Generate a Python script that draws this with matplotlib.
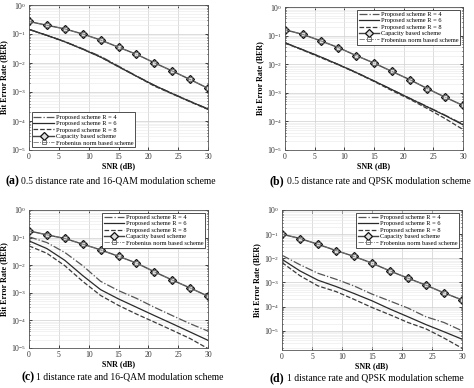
import numpy as np
import matplotlib
matplotlib.use('Agg')
import matplotlib.pyplot as plt
from matplotlib.ticker import LogLocator, NullFormatter

plt.rcParams['font.family'] = 'serif'
plt.rcParams['font.serif'] = ['Liberation Serif', 'DejaVu Serif']
plt.rcParams['mathtext.fontset'] = 'stix'

snr = [0, 3, 6, 9, 12, 15, 18, 21, 24, 27, 30]

# (a) 0.5 distance rate, 16-QAM
a_r4 = [0.145, 0.09, 0.055, 0.031, 0.017, 0.0078, 0.0036, 0.0017, 9.0e-4, 4.8e-4, 2.6e-4]
a_r6 = [0.145, 0.09, 0.054, 0.030, 0.016, 0.0075, 0.0035, 0.0017, 8.8e-4, 4.7e-4, 2.6e-4]
a_r8 = [0.143, 0.089, 0.054, 0.030, 0.016, 0.0074, 0.0035, 0.0016, 8.6e-4, 4.6e-4, 2.5e-4]
a_cap = [0.27, 0.20, 0.15, 0.10, 0.062, 0.035, 0.020, 0.0102, 0.0053, 0.0027, 0.00134]
a_frob = [0.27, 0.20, 0.15, 0.10, 0.062, 0.035, 0.020, 0.0102, 0.0053, 0.0027, 0.00134]

# (b) 0.5 distance rate, QPSK
b_r4 = [0.056, 0.032, 0.018, 0.0098, 0.0052, 0.0026, 0.0013, 6.5e-4, 3.3e-4, 1.65e-4, 8.0e-5]
b_r6 = [0.056, 0.032, 0.018, 0.0097, 0.0051, 0.0026, 0.0013, 6.4e-4, 3.2e-4, 1.6e-4, 7.6e-5]
b_r8 = [0.055, 0.031, 0.017, 0.0095, 0.0050, 0.0025, 0.0012, 6.0e-4, 2.8e-4, 1.25e-4, 5.2e-5]
b_cap = [0.16, 0.11, 0.066, 0.038, 0.020, 0.011, 0.0056, 0.0029, 0.0014, 7.0e-4, 3.6e-4]
b_frob = [0.16, 0.11, 0.066, 0.038, 0.020, 0.011, 0.0056, 0.0029, 0.0014, 7.0e-4, 3.6e-4]

# (c) 1 distance rate, 16-QAM
c_r4 = [0.107, 0.066, 0.029, 0.0096, 0.0026, 0.0012, 6.3e-4, 3.0e-4, 1.5e-4, 7.6e-5, 4.1e-5]
c_r6 = [0.076, 0.040, 0.015, 0.0042, 0.0013, 6.0e-4, 3.0e-4, 1.5e-4, 7.6e-5, 3.8e-5, 1.9e-5]
c_r8 = [0.050, 0.027, 0.0096, 0.0026, 8.0e-4, 3.5e-4, 1.7e-4, 8.7e-5, 4.4e-5, 2.2e-5, 9.5e-6]
c_cap = [0.175, 0.126, 0.093, 0.058, 0.036, 0.021, 0.012, 0.0058, 0.0029, 0.0015, 7.5e-4]
c_frob = [0.175, 0.126, 0.093, 0.058, 0.036, 0.021, 0.012, 0.0058, 0.0029, 0.0015, 7.5e-4]

# (d) 1 distance rate, QPSK
d_r4 = [0.0134, 0.0054, 0.0024, 0.00136, 7.2e-4, 3.3e-4, 1.7e-4, 8.7e-5, 3.8e-5, 2.2e-5, 1.0e-5]
d_r6 = [0.0091, 0.0030, 0.00124, 6.8e-4, 3.5e-4, 1.74e-4, 7.9e-5, 3.8e-5, 1.8e-5, 9.1e-6, 4.5e-6]
d_r8 = [0.0067, 0.0019, 7.2e-4, 4.2e-4, 2.0e-4, 9.2e-5, 4.6e-5, 2.2e-5, 1.2e-5, 5.0e-6, 1.9e-6]
d_cap = [0.10, 0.066, 0.038, 0.021, 0.012, 0.0063, 0.0030, 0.0015, 7.7e-4, 3.7e-4, 1.9e-4]
d_frob = [0.10, 0.066, 0.038, 0.021, 0.012, 0.0063, 0.0030, 0.0015, 7.7e-4, 3.7e-4, 1.9e-4]

labels = ['Proposed scheme R = 4', 'Proposed scheme R = 6', 'Proposed scheme R = 8',
          'Capacity based scheme', 'Frobenius norm based scheme']

panels = [
    ('(a)', '0.5 distance rate and 16-QAM modulation scheme', a_r4, a_r6, a_r8, a_cap, a_frob, 1e-5, 'lower left'),
    ('(b)', '0.5 distance rate and QPSK modulation scheme', b_r4, b_r6, b_r8, b_cap, b_frob, 1e-5, 'upper right'),
    ('(c)', '1 distance rate and 16-QAM modulation scheme', c_r4, c_r6, c_r8, c_cap, c_frob, 1e-5, 'upper right'),
    ('(d)', '1 distance rate and QPSK modulation scheme', d_r4, d_r6, d_r8, d_cap, d_frob, 1.6e-6, 'upper right'),
]

# axes boxes in pixels: left, right, top, bottom
boxes = [(29, 208, 5, 150), (285, 463, 7, 150), (29, 208, 210, 348), (282, 462, 210, 350)]
caps = [(5, 21, 181), (270, 287, 181), (22, 36, 377), (270, 287, 378)]

W, H = 474, 388
fig = plt.figure(figsize=(W / 100, H / 100), dpi=100)

for i, (tag, text, r4, r6, r8, cap, frob, ymin, loc) in enumerate(panels):
    l, r, t, b = boxes[i]
    ax = fig.add_axes([l / W, 1 - b / H, (r - l) / W, (b - t) / H])
    ax.plot(snr, r4, color='#555555', ls='-.', lw=0.9, label=labels[0])
    ax.plot(snr, r6, color='#2a2a2a', ls='-', lw=0.9, label=labels[1])
    ax.plot(snr, r8, color='#3a3a3a', ls='--', lw=0.9, label=labels[2])
    ax.plot(snr, cap, color='#444444', ls='-', lw=1.0, marker='D', ms=4.0,
            mfc='#dddddd', mec='#111111', mew=0.9, label=labels[3])
    ax.plot(snr, frob, color='#777777', ls='-.', lw=0.6, marker='s', ms=2.6,
            mfc='none', mec='#666666', mew=0.6, label=labels[4])
    ax.set_yscale('log')
    ax.set_xlim(0, 30)
    ax.set_ylim(ymin, 1)
    ax.set_xticks([0, 5, 10, 15, 20, 25, 30])
    ax.yaxis.set_major_locator(LogLocator(base=10, numticks=10))
    ax.yaxis.set_minor_locator(LogLocator(base=10, subs=np.arange(2, 10), numticks=10))
    ax.yaxis.set_minor_formatter(NullFormatter())
    ax.grid(True, which='major', color='#cfcfcf', lw=0.5)
    ax.grid(True, which='minor', axis='y', color='#e8e8e8', lw=0.4)
    ax.tick_params(which='both', direction='in', labelsize=5.5, length=2, width=0.5,
                   top=True, right=True, pad=2, labelcolor='#333333')
    ax.tick_params(which='minor', length=1)
    for s in ax.spines.values():
        s.set_linewidth(0.6)
        s.set_color('#555555')
    ax.set_xlabel('SNR (dB)', fontsize=5.8, fontweight='bold', labelpad=1)
    ax.set_ylabel('Bit Error Rate (BER)', fontsize=5.8, fontweight='bold', labelpad=2)
    leg = ax.legend(loc=loc, fontsize=4.6, handlelength=3.2, borderpad=0.3,
                    labelspacing=0.15, handletextpad=0.3, fancybox=False,
                    framealpha=1, borderaxespad=0.4)
    leg.get_frame().set_edgecolor('#333333')
    leg.get_frame().set_linewidth(0.6)

    x0, x1, y = caps[i]
    fig.text(x0 / W, 1 - y / H, tag, fontsize=8.5, fontweight='bold', va='center')
    fig.text(x1 / W, 1 - y / H, text, fontsize=6.9, va='center')

fig.savefig('out.png', dpi=100)
